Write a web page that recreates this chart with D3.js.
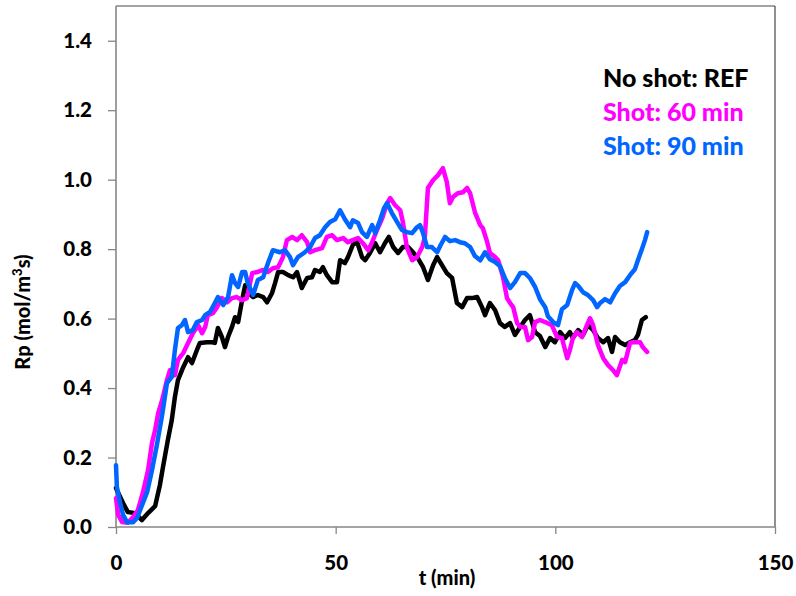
<!DOCTYPE html>
<html><head><meta charset="utf-8">
<script src="https://cdn.jsdelivr.net/npm/d3@7"></script>
<style>body{margin:0;background:#fff}svg{display:block}</style>
</head><body><svg id="c" width="796" height="596"></svg>
<script>
const seriesNames = ["No shot: REF", "Shot: 60 min", "Shot: 90 min"];
const seriesColors = ["#000000", "#FF00FF", "#0066FF"];
const xTicks = [0, 50, 100, 150];
const yTicks = [0.0, 0.2, 0.4, 0.6, 0.8, 1.0, 1.2, 1.4];

const refT = [0,1.6,2.7,4.3,5.9,7.3,8.9,10.0,10.7,11.8,12.7,13.4,14.1,15.3,16.4,17.3,18.4,19.1,20.7,21.9,22.5,23.2,24.1,24.8,25.5,26.4,27.1,27.8,28.7,29.4,30.0,31.2,32.3,33.5,34.4,35.5,36.2,36.9,38.0,39.2,40.3,41.2,42.3,43.5,44.6,45.3,46.4,47.1,48.0,49.2,50.3,51.0,52.1,52.8,53.9,54.9,56.0,56.7,57.8,59.0,60.1,61.2,62.1,63.1,64.2,65.3,66.5,67.6,68.7,69.9,71.0,72.2,73.1,74.2,75.3,76.5,77.6,78.8,79.9,81.0,82.2,83.3,84.0,85.1,86.3,87.4,88.5,89.7,90.8,92.0,93.1,94.2,95.4,96.5,97.7,98.8,99.9,101.1,102.2,103.3,104.0,105.2,106.3,107.4,108.6,109.7,110.9,112.0,112.9,113.6,114.7,115.9,117.0,118.1,118.8,119.7,120.6];
const refV = [0.112,0.069,0.043,0.040,0.020,0.040,0.060,0.121,0.173,0.250,0.308,0.374,0.423,0.460,0.489,0.472,0.509,0.530,0.532,0.532,0.530,0.573,0.547,0.518,0.547,0.576,0.604,0.590,0.653,0.696,0.676,0.662,0.668,0.662,0.647,0.673,0.702,0.734,0.734,0.725,0.719,0.734,0.688,0.717,0.719,0.740,0.734,0.748,0.725,0.705,0.705,0.768,0.760,0.777,0.812,0.820,0.777,0.768,0.789,0.817,0.791,0.817,0.835,0.806,0.789,0.806,0.806,0.791,0.774,0.748,0.711,0.754,0.777,0.754,0.731,0.717,0.645,0.633,0.659,0.659,0.662,0.633,0.610,0.645,0.624,0.587,0.576,0.587,0.553,0.576,0.596,0.610,0.561,0.550,0.518,0.544,0.532,0.561,0.544,0.561,0.544,0.567,0.553,0.581,0.567,0.544,0.532,0.544,0.504,0.547,0.532,0.524,0.532,0.538,0.553,0.596,0.604];

const s60T = [0,0.5,1.4,2.7,3.9,5.0,6.1,7.3,8.2,8.9,9.6,10.5,11.6,12.3,13.4,14.1,15.3,16.4,17.5,18.7,19.6,20.3,20.9,22.1,23.0,24.1,25.3,26.4,27.5,28.7,29.8,31.0,32.1,33.5,34.6,35.7,36.9,38.0,38.9,40.1,41.2,42.3,43.5,44.2,45.3,46.9,48.0,49.2,50.3,51.7,52.8,53.9,55.1,56.2,57.4,58.3,59.4,60.6,61.7,62.4,63.5,64.7,65.3,66.2,67.4,68.5,69.7,70.3,71.0,72.2,73.3,74.4,75.3,76.0,76.7,77.8,79.0,79.9,80.6,81.7,82.9,83.5,84.5,85.1,86.3,87.0,88.1,89.0,89.7,90.4,91.3,92.0,93.1,93.8,94.7,95.4,96.5,97.7,99.2,100.4,101.5,102.7,103.3,104.0,104.9,106.1,107.2,107.9,108.6,109.7,110.9,112.0,113.1,114.0,115.2,115.9,117.0,117.7,119.3,119.9,120.9];
const s60V = [0.083,0.035,0.014,0.012,0.029,0.049,0.098,0.164,0.242,0.279,0.328,0.365,0.423,0.452,0.437,0.481,0.501,0.530,0.558,0.581,0.558,0.576,0.610,0.616,0.633,0.659,0.647,0.659,0.662,0.653,0.659,0.731,0.734,0.740,0.734,0.745,0.748,0.777,0.826,0.835,0.826,0.840,0.820,0.791,0.797,0.803,0.835,0.840,0.826,0.832,0.820,0.826,0.832,0.817,0.797,0.820,0.855,0.889,0.932,0.947,0.927,0.912,0.878,0.806,0.768,0.777,0.806,0.835,0.976,0.999,1.013,1.033,0.993,0.932,0.950,0.961,0.964,0.976,0.961,0.906,0.869,0.860,0.820,0.789,0.777,0.768,0.719,0.659,0.645,0.633,0.587,0.576,0.576,0.538,0.547,0.590,0.596,0.590,0.581,0.547,0.544,0.486,0.509,0.544,0.561,0.547,0.581,0.601,0.581,0.524,0.486,0.466,0.452,0.437,0.481,0.475,0.530,0.532,0.532,0.518,0.504];

const s90T = [0,0.2,0.9,1.6,2.5,3.9,4.8,5.5,7.1,8.2,9.3,10.5,11.6,12.7,13.4,14.1,15.0,15.7,16.4,17.5,18.4,19.6,20.3,21.4,22.5,23.2,24.4,25.5,26.4,27.1,27.8,28.7,29.4,30.0,31.2,32.3,33.5,34.6,35.7,37.3,38.5,39.6,40.3,41.4,43.0,44.2,45.3,46.4,47.6,48.7,49.9,51.0,52.1,53.3,53.9,55.1,56.0,57.1,58.3,59.0,60.1,61.0,61.7,62.8,64.0,65.1,66.2,67.4,68.5,69.2,69.9,70.8,71.9,73.1,73.9,74.9,76.0,77.2,78.3,79.4,80.6,81.7,82.9,84.0,85.1,86.3,87.4,88.5,89.7,90.8,92.0,93.1,94.2,95.4,96.5,97.7,98.3,99.5,100.6,101.5,102.7,103.8,104.5,105.2,106.3,107.4,108.6,109.5,110.2,111.3,112.5,113.6,114.7,115.9,117.0,118.1,118.8,119.7,120.4,120.9];
const s90V = [0.178,0.115,0.072,0.035,0.014,0.014,0.026,0.049,0.101,0.164,0.236,0.322,0.414,0.432,0.509,0.573,0.581,0.596,0.561,0.567,0.590,0.596,0.610,0.619,0.645,0.662,0.639,0.662,0.725,0.702,0.691,0.734,0.734,0.702,0.668,0.711,0.719,0.760,0.797,0.791,0.797,0.777,0.754,0.777,0.791,0.806,0.832,0.840,0.863,0.878,0.886,0.912,0.886,0.863,0.883,0.875,0.849,0.835,0.869,0.846,0.883,0.918,0.932,0.904,0.878,0.855,0.849,0.846,0.863,0.869,0.846,0.806,0.806,0.791,0.812,0.835,0.823,0.826,0.820,0.817,0.806,0.780,0.768,0.791,0.771,0.763,0.751,0.717,0.688,0.705,0.731,0.731,0.717,0.691,0.656,0.633,0.607,0.590,0.581,0.627,0.639,0.682,0.702,0.694,0.676,0.668,0.653,0.633,0.645,0.656,0.647,0.673,0.694,0.705,0.725,0.742,0.768,0.800,0.826,0.849];

const seriesT = [refT, s60T, s90T];
const seriesV = [refV, s60V, s90V];

const svg = d3.select("#c");
const L = 116, R = 775, T = 6, B = 527;
const x = d3.scaleLinear().domain([0, 150]).range([L, R]);
const y = d3.scaleLinear().domain([0, 1.5]).range([B, T]);
const FONT = "Lato, 'Open Sans', sans-serif";
const gray = "#868686";

svg.append("line").attr("x1", L).attr("x2", R).attr("y1", T).attr("y2", T).attr("stroke", gray).attr("stroke-width", 1.5);
svg.append("line").attr("x1", R).attr("x2", R).attr("y1", T).attr("y2", B).attr("stroke", "#222").attr("stroke-width", 1);

const xAxis = svg.append("g").attr("transform", `translate(0,${B})`)
  .call(d3.axisBottom(x).tickValues(xTicks).tickSize(7).tickPadding(21).tickFormat(d3.format("d")));
const yAxis = svg.append("g").attr("transform", `translate(${L},0)`)
  .call(d3.axisLeft(y).tickValues(yTicks).tickSize(8).tickPadding(16).tickFormat(d3.format(".1f")));
[xAxis, yAxis].forEach(g => {
  g.select(".domain").attr("stroke", gray).attr("stroke-width", 1.6);
  g.selectAll(".tick line").attr("stroke", gray).attr("stroke-width", 1.3);
  g.selectAll(".tick text").attr("font-family", FONT).attr("font-weight", 900).attr("font-size", 20.5).attr("fill", "#000");
});
xAxis.select(".domain").attr("d", `M${L},0H${R}`);
yAxis.select(".domain").attr("d", `M0,${B}V${T}`);

const line = d3.line().x(d => x(d[0])).y(d => y(d[1])).curve(d3.curveLinear);
seriesT.forEach((ts, i) => {
  const pts = ts.map((t, j) => [t, seriesV[i][j]]);
  svg.append("path").datum(pts).attr("d", line).attr("fill", "none")
    .attr("stroke", seriesColors[i]).attr("stroke-width", 4.5)
    .attr("stroke-linejoin", "round").attr("stroke-linecap", "round");
});

const legY = [87, 121, 155];
seriesNames.forEach((n, i) => {
  svg.append("text").attr("x", 603).attr("y", legY[i]).text(n)
    .attr("font-family", FONT).attr("font-weight", 900).attr("font-size", 25).attr("fill", seriesColors[i]);
});

svg.append("text").attr("x", 447).attr("y", 585).attr("text-anchor", "middle")
  .attr("font-family", FONT).attr("font-weight", 900).attr("font-size", 20).text("t (min)");
const yt = svg.append("text").attr("transform", "translate(30,312) rotate(-90)").attr("text-anchor", "middle")
  .attr("font-family", FONT).attr("font-weight", 900).attr("font-size", 20);
yt.append("tspan").text("Rp (mol/m");
yt.append("tspan").attr("font-size", 13).attr("dy", -8).text("3");
yt.append("tspan").attr("dy", 8).text("s)");
</script></body></html>
